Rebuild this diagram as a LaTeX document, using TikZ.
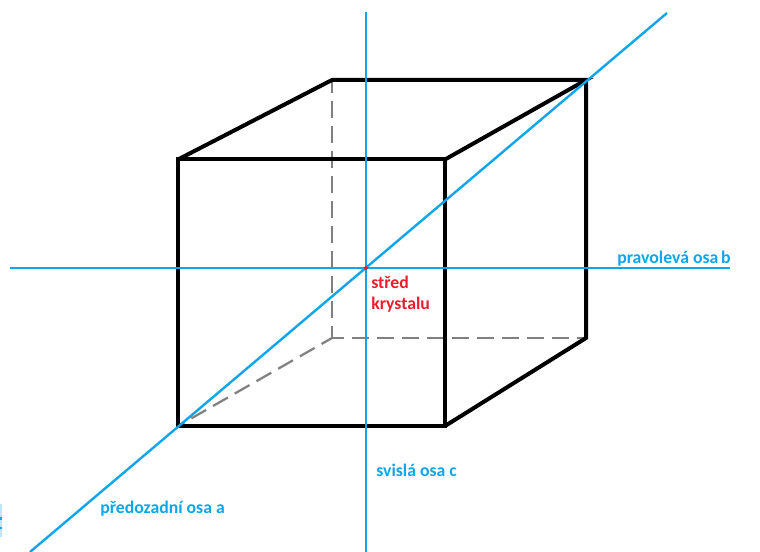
\documentclass[tikz,border=0pt]{standalone}
\usepackage{fontspec}
\setmainfont{Carlito}
\usetikzlibrary{positioning}
\definecolor{cAxis}{RGB}{15,165,235}
\definecolor{cEdge}{RGB}{128,128,128}
\definecolor{cMid}{RGB}{237,28,46}
\definecolor{cSliver}{RGB}{190,232,250}
\tikzset{
    cubeedge/.style={line width=3pt, black},
    hiddenedge/.style={line width=1.7pt, cEdge, dash pattern=on 12.75pt off 6pt, dash phase=3.75pt},
    axisline/.style={line width=1.8pt, cAxis},
    axislabel/.style={font=\fontsize{13.3}{15}\selectfont\bfseries, text=cAxis, inner sep=0pt},
    midlabel/.style={font=\fontsize{13.3}{15.5}\selectfont\bfseries, text=cMid, inner sep=0pt, align=left}
}
\begin{document}
\begin{tikzpicture}[x=0.75pt, y=-0.75pt]
    \useasboundingbox (0,0) rectangle (760,552);
    \fill[white] (0,0) rectangle (760,552);

    % Corners of the front face
    \coordinate (ftl) at (178,159.5);
    \coordinate (ftr) at (445,159.5);
    \coordinate (fbl) at (178,426);
    \coordinate (fbr) at (445,426);

    % Corners of the back face
    \coordinate (btl) at (332,80);
    \coordinate (btr) at (586,80);
    \coordinate (bbl) at (332,338);
    \coordinate (bbr) at (586,338);

    % Free ends of the axes
    \coordinate (aS) at (30,552);
    \coordinate (aE) at (667,13);
    \coordinate (bW) at (10,268);
    \coordinate (bE) at (730,268);
    \coordinate (cN) at (366,12);
    \coordinate (cS) at (366,552);

    % Cropped remainder at the left border
    \fill[cSliver] (0,504) rectangle (2,537);
    \fill[cAxis] (0,517) rectangle (2,520);
    \fill[cAxis] (0,527) rectangle (2,529);

    % Hidden edges
    \draw[hiddenedge] (bbl) -- (btl);
    \draw[hiddenedge] (bbl) -- (bbr);
    \draw[hiddenedge] (bbl) -- (fbl);

    % Visible edges
    \draw[cubeedge] (ftl) -- (ftr) -- (fbr) -- (fbl) -- cycle;
    \draw[cubeedge] (ftl) -- (btl) -- (btr) -- (ftr);
    \draw[cubeedge] (btr) -- (bbr) -- (fbr);

    % Axes
    \draw[axisline] (aS) -- (aE);
    \draw[axisline] (bW) -- (bE);
    \draw[axisline] (cN) -- (cS);

    % Centre dot and labels
    \node[circle, fill=cMid, inner sep=0pt, minimum size=3pt] (stredBod) at (366,268) {};
    \node[midlabel, anchor=north west] (stred) at (371,276) {střed\\krystalu};
    \node[axislabel, anchor=west] (osaB) at (617,258.5) {pravolevá osa\kern-1pt\ b};
    \node[axislabel, anchor=west] (osaC) at (376,470) {svislá osa c};
    \node[axislabel, anchor=west] (osaA) at (100,509) {předozadní osa a};
\end{tikzpicture}
\end{document}
